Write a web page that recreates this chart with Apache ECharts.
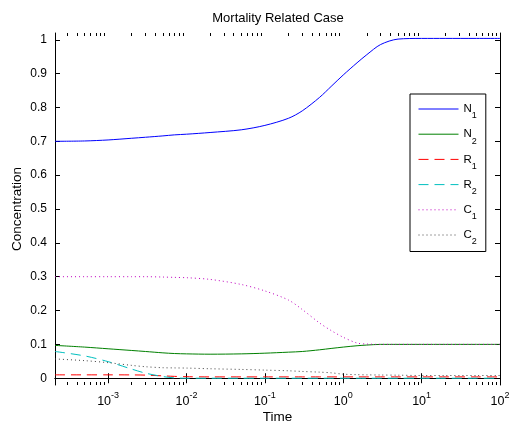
<!DOCTYPE html>
<html>
<head>
<meta charset="utf-8">
<script src="https://cdn.jsdelivr.net/npm/echarts@6/dist/echarts.min.js"></script>
<style>
html,body{margin:0;padding:0;background:#fff;}
#chart{width:513px;height:424px;}
</style>
</head>
<body>
<div id="chart"></div>
<script>
// ---- data ----
const time = [2.1e-4, 5e-4, 1e-3, 2e-3, 3e-3, 5e-3, 7e-3, 1e-2, 2e-2, 5e-2, 0.1, 0.2, 0.3, 0.5, 0.7, 1, 1.5, 2, 3, 5, 10, 20, 50, 100];
const N1 = [0.700, 0.701, 0.704, 0.709, 0.712, 0.716, 0.719, 0.721, 0.726, 0.734, 0.747, 0.768, 0.790, 0.830, 0.862, 0.896, 0.932, 0.956, 0.986, 1.002, 1.004, 1.004, 1.004, 1.004];
const N2 = [0.097, 0.092, 0.087, 0.082, 0.079, 0.075, 0.073, 0.072, 0.071, 0.072, 0.074, 0.077, 0.079, 0.084, 0.088, 0.092, 0.096, 0.098, 0.100, 0.100, 0.100, 0.100, 0.100, 0.100];
const R1 = [0.010, 0.010, 0.010, 0.0098, 0.0092, 0.007, 0.0055, 0.0045, 0.004, 0.004, 0.004, 0.004, 0.004, 0.004, 0.004, 0.004, 0.004, 0.004, 0.004, 0.004, 0.004, 0.004, 0.004, 0.004];
const R2 = [0.079, 0.066, 0.049, 0.027, 0.015, 0.005, 0.001, 0.000, 0.000, 0.000, 0.000, 0.000, 0.000, 0.000, 0.000, 0.000, 0.000, 0.000, 0.000, 0.000, 0.000, 0.000, 0.000, 0.000];
const C1 = [0.300, 0.300, 0.300, 0.300, 0.300, 0.299, 0.298, 0.297, 0.292, 0.277, 0.258, 0.231, 0.203, 0.163, 0.141, 0.121, 0.104, 0.101, 0.100, 0.100, 0.100, 0.100, 0.100, 0.100];
const C2 = [0.057, 0.052, 0.046, 0.038, 0.034, 0.031, 0.0305, 0.030, 0.028, 0.026, 0.024, 0.022, 0.020, 0.018, 0.016, 0.012, 0.0105, 0.010, 0.0095, 0.009, 0.008, 0.008, 0.008, 0.008];
const seriesNames = ['N1', 'N2', 'R1', 'R2', 'C1', 'C2'];
const xMajorTicks = [1e-3, 1e-2, 1e-1, 1, 10, 100];
const xMinorTicks = [3e-4, 4e-4, 5e-4, 6e-4, 7e-4, 8e-4, 9e-4,
  2e-3, 3e-3, 4e-3, 5e-3, 6e-3, 7e-3, 8e-3, 9e-3,
  2e-2, 3e-2, 4e-2, 5e-2, 6e-2, 7e-2, 8e-2, 9e-2,
  0.2, 0.3, 0.4, 0.5, 0.6, 0.7, 0.8, 0.9,
  2, 3, 4, 5, 6, 7, 8, 9,
  20, 30, 40, 50, 60, 70, 80, 90];
const yTicks = [0, 0.1, 0.2, 0.3, 0.4, 0.5, 0.6, 0.7, 0.8, 0.9, 1];

const values = [N1, N2, R1, R2, C1, C2];
const styles = [
  {color: '#0000ff', type: 'solid'},
  {color: '#008000', type: 'solid'},
  {color: '#ff0000', type: [10, 6]},
  {color: '#00bfbf', type: [10, 6]},
  {color: '#bf00bf', type: [1, 3]},
  {color: '#404040', type: [1, 3]}
];

const FONT = '"Liberation Sans", Arial, Helvetica, sans-serif';
const X_MIN = 2.1e-4, X_MAX = 100;

function expLabel(v) {
  const k = Math.round(Math.log10(v));
  return '{b|10}{s|' + k + '}';
}

const chart = echarts.init(document.getElementById('chart'), null, {renderer: 'canvas'});

const baseX = {
  type: 'log', logBase: 10, min: X_MIN, max: X_MAX,
  splitLine: {show: false}, minorSplitLine: {show: false}
};

const option = {
  animation: false,
  backgroundColor: '#fff',
  textStyle: {fontFamily: FONT},
  title: {
    text: 'Mortality Related Case',
    left: 278, top: 12, padding: 0, textAlign: 'center',
    textStyle: {fontFamily: FONT, fontSize: 13, fontWeight: 'normal', color: '#000'}
  },
  grid: {left: 55, right: 13, top: 33, bottom: 39, containLabel: false, outerBoundsMode: 'none'},
  legend: {
    orient: 'vertical', left: 410, top: 94,
    padding: [9, 9, 5, 8],
    itemWidth: 40, itemHeight: 14, itemGap: 7.7,
    backgroundColor: '#fff', borderColor: '#000', borderWidth: 1,
    selectedMode: false,
    itemStyle: {opacity: 0, borderWidth: 0},
    lineStyle: {width: 1},
    data: seriesNames,
    formatter: function (name) { return '{b|' + name.charAt(0) + '}{s|' + name.slice(1) + '}'; },
    textStyle: {
      fontFamily: FONT, color: '#000',
      rich: {
        b: {fontFamily: FONT, fontSize: 11.5, color: '#000'},
        s: {fontFamily: FONT, fontSize: 9, color: '#000', padding: [14, 0, 0, 0]}
      }
    }
  },
  xAxis: [
    Object.assign({}, baseX, {
      position: 'bottom',
      name: 'Time', nameLocation: 'middle', nameGap: 25, nameMoveOverlap: false,
      nameTextStyle: {fontFamily: FONT, fontSize: 13.5, color: '#000'},
      axisLine: {show: true, lineStyle: {color: '#000', width: 1}},
      axisTick: {show: true, inside: true, length: 5, customValues: xMajorTicks, lineStyle: {color: '#000'}},
      axisLabel: {
        show: true, margin: 6, customValues: xMajorTicks, formatter: expLabel,
        color: '#000', fontFamily: FONT,
        rich: {
          b: {fontFamily: FONT, fontSize: 12.5, color: '#000'},
          s: {fontFamily: FONT, fontSize: 9, color: '#000', padding: [0, 0, 12, 0]}
        }
      }
    }),
    Object.assign({}, baseX, {
      position: 'top',
      axisLine: {show: true, lineStyle: {color: '#000', width: 1}},
      axisTick: {show: true, inside: true, length: 5, customValues: xMajorTicks, lineStyle: {color: '#000'}},
      axisLabel: {show: false}
    }),
    Object.assign({}, baseX, {
      position: 'bottom',
      axisLine: {show: false},
      axisTick: {show: true, inside: true, length: 3, customValues: xMinorTicks, lineStyle: {color: '#000'}},
      axisLabel: {show: false}
    }),
    Object.assign({}, baseX, {
      position: 'top',
      axisLine: {show: false},
      axisTick: {show: true, inside: true, length: 3, customValues: xMinorTicks, lineStyle: {color: '#000'}},
      axisLabel: {show: false}
    })
  ],
  yAxis: [
    {
      type: 'value', min: -0.02, max: 1.02, position: 'left',
      name: 'Concentration', nameLocation: 'middle', nameGap: 31, nameMoveOverlap: false,
      nameTextStyle: {fontFamily: FONT, fontSize: 13.5, color: '#000'},
      splitLine: {show: false},
      axisLine: {show: true, lineStyle: {color: '#000', width: 1}},
      axisTick: {show: true, inside: true, length: 5, customValues: yTicks, lineStyle: {color: '#000'}},
      axisLabel: {
        show: true, margin: 8, customValues: yTicks, color: '#000', fontFamily: FONT, fontSize: 12,
        formatter: function (v) { return (Math.abs(v) < 1e-9) ? '0' : (Math.abs(v - 1) < 1e-9 ? '1' : v.toFixed(1)); }
      }
    },
    {
      type: 'value', min: -0.02, max: 1.02, position: 'right',
      splitLine: {show: false},
      axisLine: {show: true, lineStyle: {color: '#000', width: 1}},
      axisTick: {show: true, inside: true, length: 5, customValues: yTicks, lineStyle: {color: '#000'}},
      axisLabel: {show: false}
    }
  ],
  series: seriesNames.map(function (name, i) {
    return {
      name: name, type: 'line', xAxisIndex: 0, yAxisIndex: 0,
      symbol: 'none', showSymbol: false, smooth: 0.3,
      color: styles[i].color,
      lineStyle: {color: styles[i].color, width: 1, type: styles[i].type},
      data: time.map(function (t, j) { return [t, values[i][j]]; })
    };
  })
};

chart.setOption(option);
</script>
</body>
</html>
